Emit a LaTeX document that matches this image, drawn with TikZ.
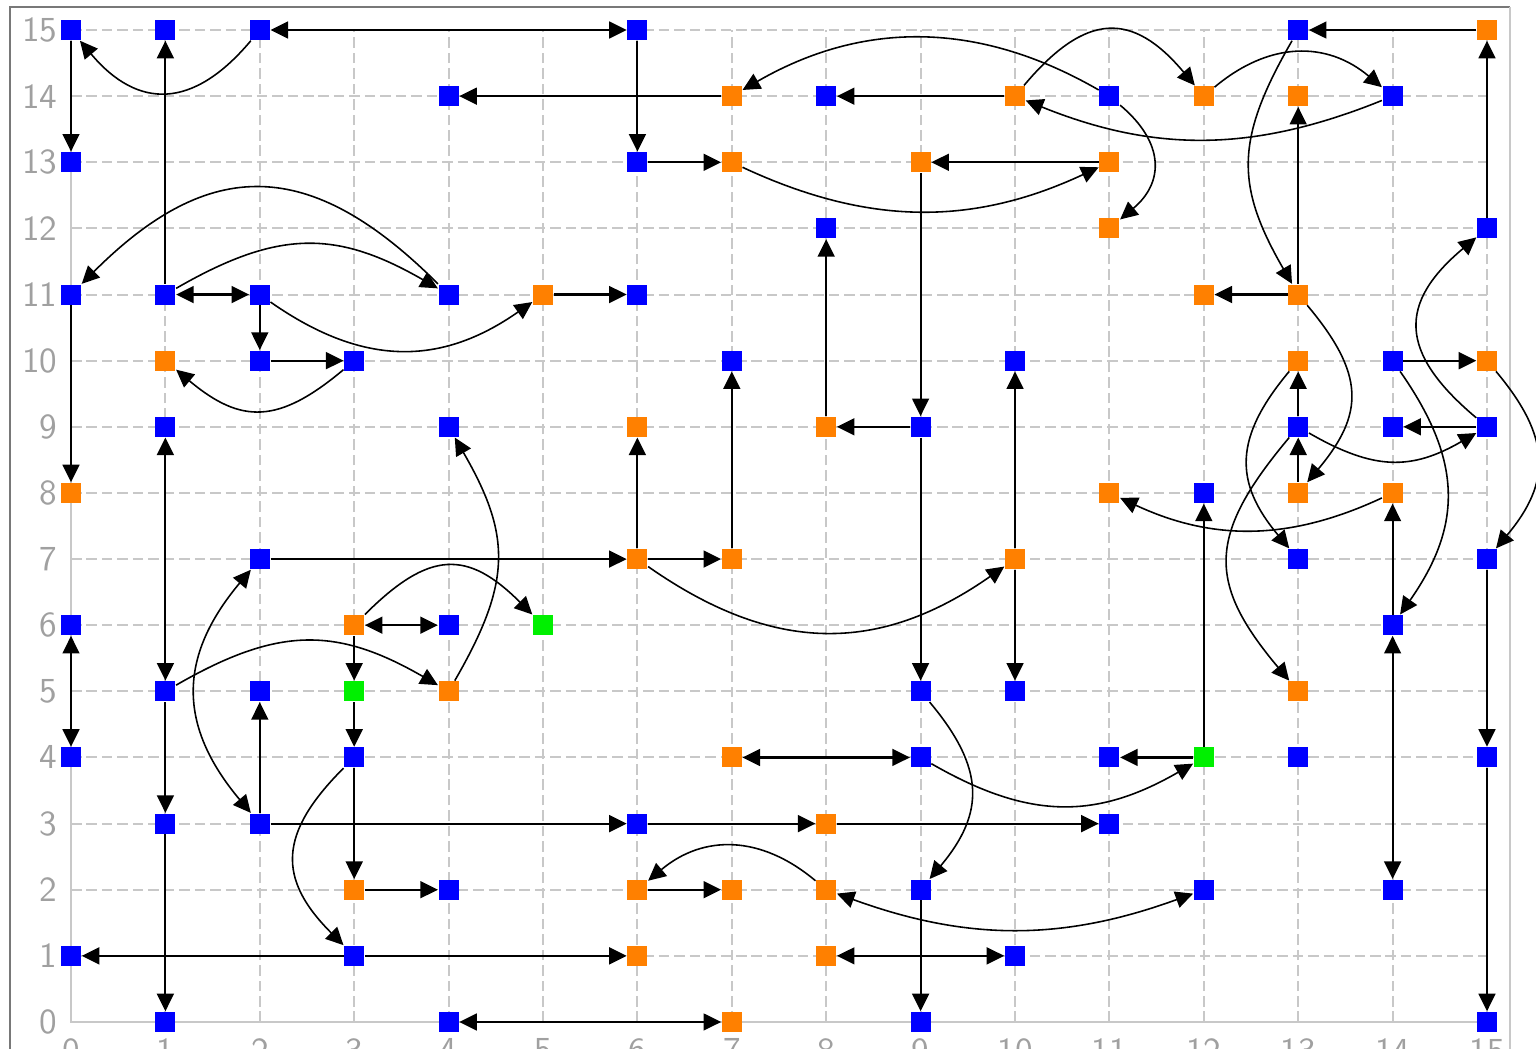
\documentclass[tikz,border=0pt]{standalone}
\usepackage{tikz}
\usetikzlibrary{arrows.meta, positioning}
\definecolor{cellblue}{RGB}{0, 0, 255}
\definecolor{cellorange}{RGB}{255, 128, 0}
\definecolor{cellgreen}{RGB}{0, 240, 0}
\definecolor{gridgray}{RGB}{200, 200, 200}
\definecolor{framegray}{RGB}{120, 120, 120}

\begin{document}
\begin{tikzpicture}[
  x=0.944cm, y=0.6613cm,
  cell/.style={rectangle, minimum size=0.2cm, inner sep=0pt},
  blu/.style={cell, fill=cellblue},
  org/.style={cell, fill=cellorange},
  grn/.style={cell, fill=cellgreen},
  oneway/.style={-{Triangle[length=5pt, width=4.8pt]}, line width=0.6pt},
  twoway/.style={{Triangle[length=5pt, width=4.8pt]}-{Triangle[length=5pt, width=4.8pt]}, line width=0.6pt},
  bendlink/.style={-{Triangle[length=5pt, width=4.8pt]}, line width=0.45pt},
  gridline/.style={gridgray, line width=0.55pt, dash pattern=on 3pt off 1.4pt},
  axlbl/.style={inner sep=0pt, font=\sffamily\fontsize{10}{10}\selectfont, text=gridgray!80!black}
]
  \useasboundingbox (-0.71cm,-0.27cm) rectangle (14.65cm,10.22cm);

  % Frame
  \draw[framegray, line width=0.6pt] (-0.61cm,-0.3cm) -- (-0.61cm,10.15cm) -- (14.39cm,10.15cm);
  \draw[gridgray, line width=0.6pt] (14.39cm,10.15cm) -- (14.39cm,-0.3cm);

  % Grid and axes
  \foreach \k in {1,...,15} {
    \draw[gridline] (0,\k) -- (15,\k);
    \draw[gridline] (\k,0) -- (\k,15);
  }
  \draw[gridgray, line width=0.8pt] (0,15) -- (0,0) -- (15,0);
  \foreach \k in {0,...,15} {
    \node[axlbl, anchor=east] at ([xshift=-0.13cm]0,\k) {\k};
    \node[axlbl, anchor=north] at ([yshift=-0.16cm]\k,0) {\k};
  }

  % Blue cells
  \foreach \x/\y in {0/15, 1/15, 2/15, 6/15, 13/15, 4/14, 8/14, 11/14, 14/14,
      0/13, 6/13, 8/12, 15/12, 0/11, 1/11, 2/11, 4/11, 6/11,
      2/10, 3/10, 7/10, 10/10, 14/10, 1/9, 4/9, 9/9, 13/9, 14/9, 15/9,
      12/8, 2/7, 13/7, 15/7, 0/6, 4/6, 14/6, 1/5, 2/5, 9/5, 10/5,
      0/4, 3/4, 9/4, 11/4, 13/4, 15/4, 1/3, 2/3, 6/3, 11/3,
      4/2, 9/2, 12/2, 14/2, 0/1, 3/1, 10/1, 1/0, 4/0, 9/0, 15/0}
    \node[blu] (n\x-\y) at (\x,\y) {};

  % Orange cells
  \foreach \x/\y in {15/15, 7/14, 10/14, 12/14, 13/14, 7/13, 9/13, 11/13, 11/12,
      5/11, 12/11, 13/11, 1/10, 13/10, 15/10, 6/9, 8/9, 0/8, 11/8, 13/8, 14/8,
      6/7, 7/7, 10/7, 3/6, 4/5, 13/5, 7/4, 8/3, 3/2, 6/2, 7/2, 8/2, 6/1, 8/1, 7/0}
    \node[org] (n\x-\y) at (\x,\y) {};

  % Green cells
  \foreach \x/\y in {5/6, 3/5, 12/4}
    \node[grn] (n\x-\y) at (\x,\y) {};

  % Straight links
  \foreach \a/\b in {0-15/0-13, 1-11/1-15, 6-15/6-13, 7-14/4-14, 10-14/8-14,
      6-13/7-13, 11-13/9-13, 9-13/9-9, 15-15/13-15, 15-12/15-15, 13-11/13-14,
      13-11/12-11, 14-10/15-10, 15-9/14-9, 13-9/13-10, 13-8/13-9, 14-6/14-8,
      15-7/15-4, 15-4/15-0, 12-4/12-8, 12-4/11-4, 9-9/9-5, 9-9/8-9, 8-9/8-12,
      10-7/10-10, 10-7/10-5, 6-7/7-7, 7-7/7-10, 6-7/6-9, 2-7/6-7, 3-6/3-5,
      3-5/3-4, 1-5/1-3, 1-3/1-0, 2-3/2-5, 2-3/6-3, 6-3/8-3, 8-3/11-3, 3-4/3-2,
      3-2/4-2, 3-1/0-1, 3-1/6-1, 6-2/7-2, 9-2/9-0, 0-11/0-8, 2-11/2-10,
      5-11/6-11, 2-10/3-10}
    \draw[oneway] (n\a) -- (n\b);

  % Two-way links
  \foreach \a/\b in {2-15/6-15, 1-11/2-11, 1-9/1-5, 3-6/4-6, 0-4/0-6,
      14-6/14-2, 8-1/10-1, 4-0/7-0, 7-4/9-4}
    \draw[twoway] (n\a) -- (n\b);

  % Bent links
  \draw[bendlink] (n2-15) to[bend left=50, looseness=1.35] (n0-15);
  \draw[bendlink] (n7-13) to[bend right=25] (n11-13);
  \draw[bendlink] (n11-14) to[bend right=30] (n7-14);
  \draw[bendlink] (n10-14) to[bend left=50, looseness=1.45] (n12-14);
  \draw[bendlink] (n11-14) to[bend left=50, looseness=1.3] (n11-12);
  \draw[bendlink] (n14-14) to[bend left=22] (n10-14);
  \draw[bendlink] (n12-14) to[bend left=40, looseness=1.1] (n14-14);
  \draw[bendlink] (n13-15) to[bend right=30, looseness=1.2] (n13-11);
  \draw[bendlink] (n13-11) to[bend left=40, looseness=1.3] (n13-8);
  \draw[bendlink] (n15-9) to[bend left=50, looseness=1.45] (n15-12);
  \draw[bendlink] (n13-9) to[bend right=30, looseness=1.15] (n15-9);
  \draw[bendlink] (n13-10) to[bend right=40, looseness=1.25] (n13-7);
  \draw[bendlink] (n13-9) to[bend right=40, looseness=1.35] (n13-5);
  \draw[bendlink] (n14-10) to[bend left=35, looseness=1.15] (n14-6);
  \draw[bendlink] (n15-10) to[bend left=40, looseness=1.25] (n15-7);
  \draw[bendlink] (n14-8) to[bend left=25] (n11-8);
  \draw[bendlink] (n9-4) to[bend right=30, looseness=1.1] (n12-4);
  \draw[bendlink] (n9-5) to[bend left=40, looseness=1.25] (n9-2);
  \draw[bendlink] (n6-7) to[bend right=35, looseness=1.1] (n10-7);
  \draw[bendlink] (n4-5) to[bend right=30, looseness=1.2] (n4-9);
  \draw[bendlink] (n3-6) to[bend left=45, looseness=1.4] (n5-6);
  \draw[bendlink] (n1-5) to[bend left=30, looseness=1.15] (n4-5);
  \draw[bendlink, {Triangle[length=5pt, width=4.8pt]}-{Triangle[length=5pt, width=4.8pt]}] (n2-3) to[bend left=40, looseness=1.2] (n2-7);
  \draw[bendlink] (n3-4) to[bend right=45, looseness=1.35] (n3-1);
  \draw[bendlink] (n8-2) to[bend right=40, looseness=1.1] (n6-2);
  \draw[bendlink, {Triangle[length=5pt, width=4.8pt]}-{Triangle[length=5pt, width=4.8pt]}] (n8-2) to[bend right=20] (n12-2);
  \draw[bendlink] (n4-11) to[bend right=45, looseness=1.3] (n0-11);
  \draw[bendlink] (n1-11) to[bend left=30, looseness=1.15] (n4-11);
  \draw[bendlink] (n2-11) to[bend right=35, looseness=1.1] (n5-11);
  \draw[bendlink] (n3-10) to[bend left=40, looseness=1.3] (n1-10);
\end{tikzpicture}
\end{document}
